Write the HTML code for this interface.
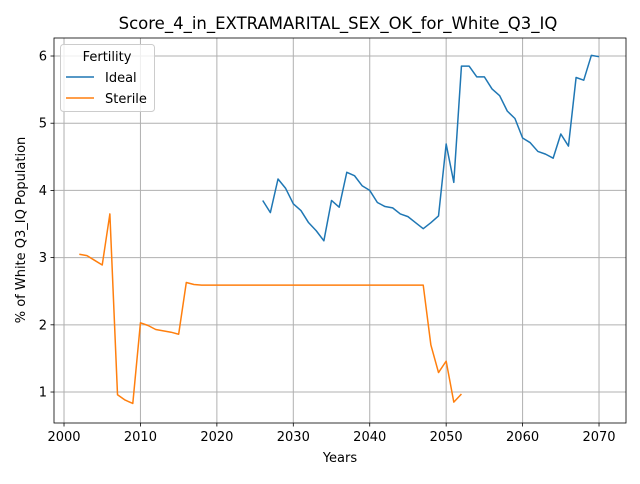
<!DOCTYPE html>
<html><head><meta charset="utf-8"><style>
body{margin:0;background:#fff;font-family:"DejaVu Sans","Liberation Sans",sans-serif}
svg text{font-family:"DejaVu Sans","Liberation Sans",sans-serif}
</style></head><body>
<svg id="c" width="640" height="480" xmlns="http://www.w3.org/2000/svg"></svg>
<script>
const idealYears=[2026,2027,2028,2029,2030,2031,2032,2033,2034,2035,2036,2037,2038,2039,2040,2041,2042,2043,2044,2045,2046,2047,2048,2049,2050,2051,2052,2053,2054,2055,2056,2057,2058,2059,2060,2061,2062,2063,2064,2065,2066,2067,2068,2069,2070];
const idealValues=[3.85,3.67,4.17,4.03,3.80,3.70,3.52,3.40,3.25,3.85,3.75,4.27,4.22,4.07,4.00,3.82,3.76,3.74,3.65,3.61,3.52,3.43,3.52,3.62,4.69,4.12,5.85,5.85,5.69,5.69,5.51,5.41,5.18,5.07,4.78,4.71,4.58,4.54,4.48,4.84,4.66,5.68,5.64,6.01,5.99];
const sterileYears=[2002,2003,2004,2005,2006,2007,2008,2009,2010,2011,2012,2013,2014,2015,2016,2017,2018,2019,2020,2021,2022,2023,2024,2025,2026,2027,2028,2029,2030,2031,2032,2033,2034,2035,2036,2037,2038,2039,2040,2041,2042,2043,2044,2045,2046,2047,2048,2049,2050,2051,2052];
const sterileValues=[3.05,3.03,2.96,2.89,3.65,0.96,0.88,0.83,2.03,1.99,1.93,1.91,1.89,1.86,2.63,2.60,2.59,2.59,2.59,2.59,2.59,2.59,2.59,2.59,2.59,2.59,2.59,2.59,2.59,2.59,2.59,2.59,2.59,2.59,2.59,2.59,2.59,2.59,2.59,2.59,2.59,2.59,2.59,2.59,2.59,2.59,1.70,1.29,1.46,0.85,0.97];
const xTicks=[2000,2010,2020,2030,2040,2050,2060,2070];
const yTicks=[1,2,3,4,5,6];

const L=54,R=626,T=38,B=423;
const x0=1998.69,x1=2073.53,y0=0.539,y1=6.268;
const X=v=>L+(v-x0)/(x1-x0)*(R-L);
const Y=v=>B-(v-y0)/(y1-y0)*(B-T);
const svg=document.getElementById('c');
const NS='http://www.w3.org/2000/svg';
function mk(tag,attrs,parent){const e=document.createElementNS(NS,tag);for(const k in attrs)e.setAttribute(k,attrs[k]);(parent||svg).appendChild(e);return e;}

xTicks.forEach(t=>{
  const g=mk('line',{x1:X(t),x2:X(t),y1:T,y2:B,stroke:'#b0b0b0','stroke-width':1});
  
  
  mk('line',{x1:X(t),x2:X(t),y1:B,y2:B+3.5,stroke:'#000','stroke-width':0.8});
  const tx=mk('text',{x:X(t),y:B+18,'font-size':13,'text-anchor':'middle'});
  tx.textContent=t;
  
  
});
yTicks.forEach(t=>{
  const g=mk('line',{x1:L,x2:R,y1:Y(t),y2:Y(t),stroke:'#b0b0b0','stroke-width':1});
  
  
  mk('line',{x1:L-3.5,x2:L,y1:Y(t),y2:Y(t),stroke:'#000','stroke-width':0.8});
  const tx=mk('text',{x:L-7,y:Y(t)+4.5,'font-size':13,'text-anchor':'end'});
  tx.textContent=t;
  
  
});
function line(xs,ys,color,name){
  const p=mk('polyline',{points:xs.map((v,i)=>X(v)+','+Y(ys[i])).join(' '),fill:'none',stroke:color,'stroke-width':1.5,'stroke-linejoin':'round'});
  
  
}
line(idealYears,idealValues,'#1f77b4','ideal-line');
line(sterileYears,sterileValues,'#ff7f0e','sterile-line');
const fr=mk('rect',{x:L,y:T,width:R-L,height:B-T,fill:'none',stroke:'#000','stroke-width':0.8});


</script>
<svg width="640" height="480" style="position:absolute;left:0;top:0" xmlns="http://www.w3.org/2000/svg">
<text x="338" y="29" font-size="16.5" text-anchor="middle">Score_4_in_EXTRAMARITAL_SEX_OK_for_White_Q3_IQ</text>
<text x="340" y="462" font-size="13" text-anchor="middle">Years</text>
<text transform="translate(25,230) rotate(-90)" font-size="13" text-anchor="middle">% of White Q3_IQ Population</text>
<g>
<rect x="60.5" y="44.5" width="94" height="67" rx="3" fill="#fff" fill-opacity="0.8" stroke="#ccc"/>
<text x="107" y="61" font-size="13" text-anchor="middle">Fertility</text>
<line x1="66" x2="94" y1="77" y2="77" stroke="#1f77b4" stroke-width="1.5"/>
<text x="105" y="82" font-size="13">Ideal</text>
<line x1="66" x2="94" y1="98" y2="98" stroke="#ff7f0e" stroke-width="1.5"/>
<text x="105" y="103" font-size="13">Sterile</text>
</g>
</svg>
</body></html>
